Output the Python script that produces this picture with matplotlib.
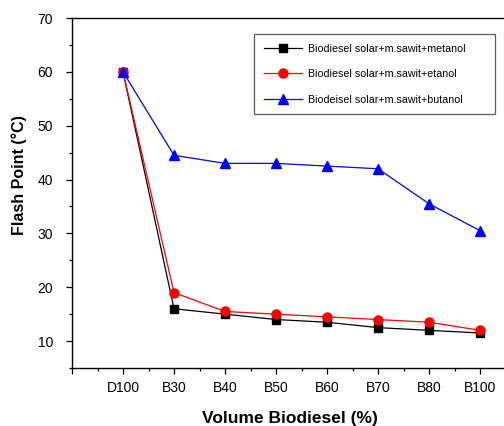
import matplotlib
matplotlib.use("Agg")
import matplotlib.pyplot as plt
from matplotlib.ticker import FixedLocator

plt.rcParams['font.family'] = ['Liberation Sans', 'DejaVu Sans']

categories = ["D100", "B30", "B40", "B50", "B60", "B70", "B80", "B100"]
metanol = [60, 16, 15, 14, 13.5, 12.5, 12, 11.5]
etanol = [60, 19, 15.5, 15, 14.5, 14, 13.5, 12]
butanol = [60, 44.5, 43, 43, 42.5, 42, 35.5, 30.5]
labels = ["Biodiesel solar+m.sawit+metanol",
          "Biodiesel solar+m.sawit+etanol",
          "Biodeisel solar+m.sawit+butanol"]

fig = plt.figure(figsize=(5.04, 4.26), dpi=100)
ax = fig.add_axes([72/504, 1-368/426, (503-72)/504, (368-18)/426])

x = list(range(1, len(categories) + 1))
ax.plot(x, metanol, color='black', marker='s', markersize=6, linewidth=0.9, label=labels[0])
ax.plot(x, etanol, color='red', marker='o', markersize=6.5, linewidth=0.9, label=labels[1])
ax.plot(x, butanol, color='blue', marker='^', markersize=7, linewidth=0.9, label=labels[2])

ax.set_xlim(0, 8.45)
ax.set_ylim(5, 70)
ax.xaxis.set_major_locator(FixedLocator(list(range(0, 9))))
ax.set_xticklabels([""] + categories)
ax.xaxis.set_minor_locator(FixedLocator([i + 0.5 for i in range(0, 9)]))
ax.yaxis.set_major_locator(FixedLocator([10, 20, 30, 40, 50, 60, 70]))
ax.yaxis.set_minor_locator(FixedLocator([5, 15, 25, 35, 45, 55, 65]))
ax.tick_params(which='major', length=4.5, width=0.9, labelsize=10, direction='out')
ax.tick_params(which='minor', length=2.5, width=0.9, direction='out')
ax.tick_params(axis='x', which='major', pad=4.5)
ax.tick_params(axis='y', which='major', pad=9)
ax.spines['right'].set_visible(False)
for s in ['left', 'bottom', 'top']:
    ax.spines[s].set_linewidth(1.0)

ax.set_xlabel("Volume Biodiesel (%)", fontsize=12.5, fontweight='bold')
ax.set_ylabel("Flash Point (°C)", fontsize=11.5, fontweight='bold')
ax.xaxis.set_label_coords((290 - 72) / 431, -(410.5 - 368) / 350)
ax.yaxis.set_label_coords(-(72 - 27) / 431, (368 - 175) / 350)

top = 1 - (34 - 18) / 350
leg = ax.legend(loc='upper left',
                bbox_to_anchor=((254 - 72) / 431, top - 0.3, (495 - 254) / 431, 0.3),
                mode='expand', borderaxespad=0,
                fontsize=7.7, frameon=True, fancybox=False, edgecolor='#333333',
                handlelength=3.6, labelspacing=1.45, borderpad=0.9, handletextpad=0.55)
leg.get_frame().set_linewidth(0.9)

fig.savefig("out.png", dpi=100)
